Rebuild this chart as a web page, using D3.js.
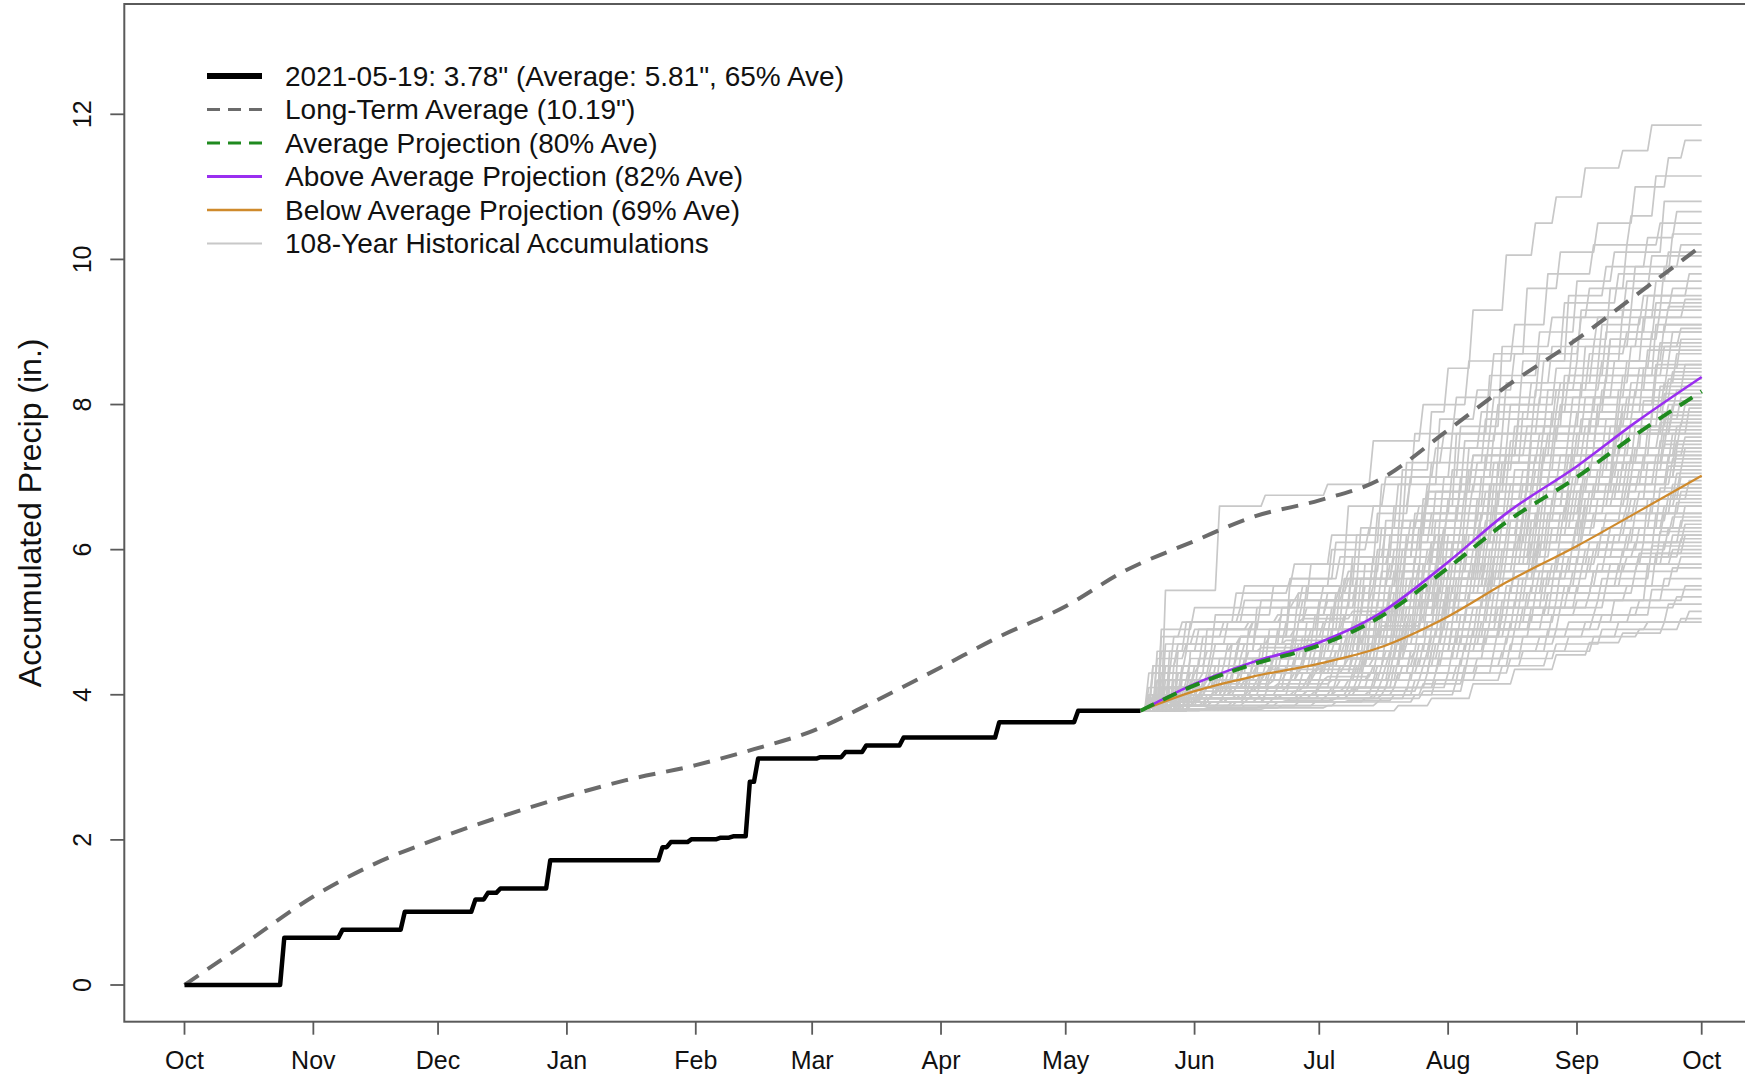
<!DOCTYPE html>
<html><head><meta charset="utf-8">
<script src="https://cdn.jsdelivr.net/npm/d3@7"></script>
<style>
body{margin:0;background:#fff}
svg{display:block}
text{font-family:"Liberation Sans",Arial,Helvetica,sans-serif;fill:#111}
</style>
</head><body>
<svg id="c" width="1745" height="1081"></svg>
<script>
// ---------------- DATA ----------------
const monthTicks = ["2020-10-01","2020-11-01","2020-12-01","2021-01-01","2021-02-01","2021-03-01","2021-04-01","2021-05-01","2021-06-01","2021-07-01","2021-08-01","2021-09-01","2021-10-01"];
const yTicks = [0,2,4,6,8,10,12];

// observed water-year accumulation (step changes)
const obsDates  = ["2020-10-01","2020-10-25","2020-11-08","2020-11-23","2020-12-10","2020-12-13","2020-12-16","2020-12-28","2021-01-24","2021-01-26","2021-01-31","2021-02-07","2021-02-10","2021-02-14","2021-02-16","2021-03-03","2021-03-09","2021-03-14","2021-03-23","2021-04-15","2021-05-04","2021-05-19"];
const obsValues = [0,0.65,0.76,1.01,1.18,1.27,1.33,1.72,1.90,1.97,2.01,2.03,2.05,2.80,3.12,3.14,3.21,3.30,3.41,3.62,3.78,3.78];

// long-term average
const ltaDates = ["2020-10-01","2020-10-15","2020-11-01","2020-11-15","2020-12-01","2020-12-15","2021-01-01","2021-01-15","2021-02-01","2021-02-15","2021-03-01","2021-03-15","2021-04-01","2021-04-15","2021-05-01","2021-05-15","2021-06-01","2021-06-15","2021-07-01","2021-07-15","2021-08-01","2021-08-15","2021-09-01","2021-09-15","2021-10-01"];
const ltaValues = [0,0.55,1.22,1.65,2.02,2.30,2.60,2.82,3.03,3.25,3.50,3.88,4.38,4.80,5.22,5.70,6.12,6.45,6.68,6.95,7.65,8.25,8.90,9.50,10.19];

// projections
const projDates  = ["2021-05-19","2021-06-01","2021-06-15","2021-07-01","2021-07-15","2021-08-01","2021-08-15","2021-09-01","2021-09-15","2021-10-01"];
const projAverage = [3.78,4.13,4.42,4.68,5.05,5.75,6.38,7.00,7.58,8.18];
const projAbove   = [3.78,4.15,4.45,4.72,5.10,5.83,6.50,7.15,7.75,8.38];
const projBelow   = [3.78,4.05,4.25,4.43,4.64,5.08,5.55,6.05,6.50,7.02];

// historical accumulations from 2021-05-19: "dayOffset:cumulativeValue"
const histStartDate = "2021-05-19";
const histStartValue = 3.78;
const histEndDay = 135;
const histLines = [
"3:3.9 9:4.3 17:4.6 28:5.0 40:5.5 52:6.2 63:7.1 70:7.9 74:8.5 80:9.3 88:10.06 95:10.5 100:10.86 107:11.26 116:11.5 123:11.85",
"5:4.2 12:4.5 24:4.8 36:5.6 47:6.1 58:6.9 66:7.6 76:8.1 85:8.7 93:9.6 101:10.1 110:10.5 119:11.0 127:11.4 131:11.64",
"6:5.44 19:6.6 30:6.75 45:6.9 56:7.5 68:8.0 79:8.6 90:9.1 98:9.8 109:10.2 118:10.6 124:11.15",
"2:4.0 10:4.4 21:4.7 34:5.2 44:5.5 53:6.3 64:7.2 73:7.6 84:8.4 96:9.0 105:9.7 114:10.1 126:10.8",
"7:4.3 16:4.9 29:5.3 41:5.8 50:6.6 59:7.0 71:7.4 82:7.9 92:8.6 103:9.5 112:9.9 122:10.3 129:10.66",
"4:4.1 13:4.3 26:4.9 38:5.4 49:5.8 57:6.5 65:7.0 77:7.7 87:8.8 99:9.2 108:9.6 117:10.2 125:10.5",
"9:4.6 18:5.1 32:5.5 46:6.0 55:6.3 62:6.9 72:7.8 81:8.2 90:8.7 102:9.4 115:9.8 128:10.35",
"3:4.0 11:4.2 23:4.6 37:4.9 48:5.5 60:6.2 69:6.8 78:7.5 86:8.0 97:8.6 106:9.3 119:9.9 130:10.2",
"6:4.4 15:4.8 27:5.0 39:5.3 51:5.9 61:6.6 70:7.2 83:7.8 94:8.3 104:8.9 113:9.6 123:10.05",
"5:4.0 14:4.5 25:4.7 42:5.1 54:5.8 63:6.4 73:7.0 85:7.6 95:8.2 105:8.6 116:9.3 126:9.9",
"8:4.2 20:4.4 31:4.9 43:5.3 52:5.6 61:6.0 68:6.7 79:7.4 89:8.0 100:8.5 111:9.1 121:9.5 132:9.8",
"2:3.9 12:4.6 28:5.2 39:5.5 50:5.7 58:6.3 67:6.6 76:7.6 88:8.3 99:8.8 110:9.2 124:9.7",
"10:4.3 22:4.7 35:5.0 47:5.4 56:5.9 66:6.5 75:7.1 84:7.6 96:8.1 107:8.8 118:9.3 128:9.6",
"4:4.2 17:4.4 30:4.8 44:5.0 53:5.6 64:6.2 74:6.6 83:7.3 93:7.7 102:8.4 112:9.0 122:9.5",
"6:3.95 15:4.1 27:4.5 40:5.0 49:5.6 59:6.4 69:6.9 80:7.3 91:7.9 101:8.3 109:8.8 120:9.2 131:9.45",
"3:4.3 11:4.6 24:4.8 36:5.3 48:5.5 57:6.0 65:6.4 77:7.0 87:7.6 98:8.2 108:8.7 117:9.0 127:9.35",
"7:4.0 19:4.5 33:4.9 45:5.1 54:5.5 62:6.2 71:6.8 81:7.2 92:7.9 103:8.4 113:8.9 125:9.3",
"9:4.1 21:4.3 32:4.6 43:5.2 51:5.8 60:6.1 70:6.5 79:7.1 90:7.7 100:8.2 111:8.6 121:9.2",
"5:4.1 13:4.4 26:4.6 38:5.0 50:5.3 61:5.7 72:6.4 82:7.0 94:7.6 104:8.1 114:8.6 126:9.1",
"2:4.1 16:4.3 29:4.7 41:4.9 52:5.5 63:6.0 73:6.3 86:7.2 97:7.7 106:8.3 118:8.8 130:9.05",
"12:4.2 25:4.5 37:4.8 47:5.3 57:5.8 67:6.3 78:6.8 88:7.3 99:7.9 110:8.5 123:9.0",
"4:3.9 14:4.2 30:4.4 44:4.7 55:5.4 64:6.1 74:6.7 85:7.2 96:7.6 107:8.1 117:8.6 128:9.0",
"8:4.4 18:4.7 31:4.8 46:5.2 58:5.7 68:6.5 80:6.9 89:7.5 101:8.0 112:8.4 124:9.1",
"6:4.0 20:4.3 34:4.6 46:4.9 56:5.4 66:5.9 76:6.6 87:7.2 98:7.6 109:8.1 120:8.5 130:8.9",
"3:3.9 10:4.1 24:4.5 39:4.8 52:5.1 62:5.8 71:6.4 83:6.8 94:7.5 105:7.9 116:8.4 126:8.8",
"9:4.3 23:4.5 35:4.7 48:5.0 59:5.6 69:6.0 79:6.5 90:7.1 100:7.7 111:8.2 122:8.75",
"5:3.9 15:4.2 28:4.4 42:4.6 53:5.2 63:5.7 72:6.2 84:6.9 95:7.3 106:7.8 118:8.3 129:8.7",
"11:4.1 22:4.3 36:4.6 49:5.1 60:5.5 70:6.1 81:6.7 92:7.1 103:7.6 115:8.2 127:8.6",
"2:3.95 13:4.2 27:4.4 40:4.7 51:5.0 61:5.4 73:6.1 85:6.6 96:7.2 108:7.8 119:8.2 131:8.55",
"7:4.1 18:4.4 30:4.5 45:4.8 57:5.3 66:5.9 77:6.3 88:6.9 99:7.4 110:7.9 121:8.5",
"4:4.0 16:4.1 29:4.3 43:4.5 54:5.0 64:5.6 75:6.1 86:6.8 97:7.3 107:7.7 117:8.1 128:8.45",
"10:4.0 21:4.2 33:4.6 47:4.8 58:5.2 68:5.8 78:6.5 89:6.9 101:7.3 112:7.8 124:8.4",
"6:4.2 17:4.3 32:4.5 44:4.9 55:5.3 65:5.6 74:6.2 84:6.7 95:7.1 105:7.6 116:8.0 127:8.35",
"3:3.85 14:4.0 26:4.3 41:4.6 53:4.9 62:5.5 72:6.0 83:6.4 93:7.0 104:7.4 115:7.9 126:8.3",
"8:4.0 19:4.2 31:4.4 46:4.6 57:5.1 67:5.7 79:6.2 91:6.6 102:7.1 113:7.7 125:8.25",
"5:4.1 12:4.3 25:4.4 38:4.7 50:4.9 60:5.4 70:6.0 82:6.5 93:6.9 104:7.5 116:7.9 129:8.2",
"9:4.0 22:4.1 35:4.4 48:4.7 59:5.0 69:5.6 80:6.0 91:6.6 102:7.0 114:7.6 126:8.15",
"2:3.9 11:4.1 24:4.2 37:4.5 51:4.8 62:5.3 71:5.8 82:6.3 94:6.9 106:7.3 118:7.8 130:8.1",
"6:3.95 18:4.2 30:4.3 43:4.4 55:4.8 66:5.4 76:5.9 87:6.4 98:7.0 109:7.4 121:8.05",
"4:4.2 15:4.3 28:4.4 40:4.6 52:5.0 63:5.4 73:5.9 84:6.3 96:6.8 107:7.2 119:7.7 131:8.0",
"12:4.1 26:4.3 39:4.5 50:4.9 61:5.3 72:5.7 83:6.2 94:6.7 105:7.1 117:7.6 128:8.0",
"7:4.6 14:4.9 27:5.0 40:5.2 52:5.5 62:5.8 73:6.3 85:6.9 97:7.4 110:8.0 124:8.55",
"3:4.4 9:4.7 21:5.0 34:5.1 45:5.4 56:5.9 66:6.4 77:6.9 88:7.4 100:7.9 112:8.4 125:8.85",
"5:3.9 17:4.0 31:4.2 44:4.4 55:4.9 65:5.3 75:5.8 86:6.3 97:6.8 108:7.2 120:7.6 132:7.95",
"8:4.1 20:4.2 33:4.4 47:4.6 58:5.0 68:5.5 78:5.9 89:6.4 100:6.8 111:7.3 123:7.9",
"3:4.0 13:4.1 26:4.3 39:4.4 50:4.7 61:5.1 71:5.6 82:6.1 93:6.6 104:7.0 115:7.4 127:7.85",
"10:4.2 24:4.3 37:4.5 49:4.7 60:5.2 70:5.6 81:6.1 92:6.5 103:6.9 114:7.4 126:7.8",
"6:3.85 16:4.0 29:4.2 42:4.5 53:4.8 64:5.2 74:5.7 85:6.2 96:6.6 107:7.0 119:7.4 130:7.75",
"2:4.0 12:4.1 25:4.2 38:4.3 51:4.6 62:5.0 72:5.5 84:6.0 95:6.5 106:6.9 118:7.3 129:7.7",
"9:4.0 21:4.1 34:4.3 46:4.5 57:4.9 67:5.3 77:5.8 88:6.2 99:6.7 110:7.1 122:7.65",
"4:3.9 15:4.0 27:4.1 41:4.3 54:4.7 63:5.2 73:5.6 83:5.9 94:6.4 105:6.8 116:7.2 128:7.6",
"7:4.1 18:4.2 32:4.3 45:4.5 56:4.8 66:5.1 76:5.6 87:6.0 98:6.5 109:6.9 121:7.3 131:7.55",
"11:3.95 23:4.0 36:4.2 48:4.4 59:4.8 69:5.3 80:5.8 91:6.2 102:6.6 113:7.0 125:7.5",
"5:4.3 14:4.4 28:4.5 40:4.6 52:4.9 62:5.2 72:5.5 83:5.9 94:6.3 106:6.8 117:7.2 129:7.5",
"3:3.85 13:3.95 26:4.1 39:4.3 51:4.5 61:4.9 71:5.4 82:5.8 93:6.3 104:6.7 115:7.1 126:7.45",
"8:4.0 19:4.1 31:4.3 44:4.4 55:4.7 65:5.1 75:5.5 86:5.9 97:6.4 108:6.8 120:7.1 131:7.4",
"6:4.1 17:4.2 30:4.3 43:4.4 54:4.6 64:5.0 74:5.5 85:5.9 96:6.3 107:6.7 118:7.0 129:7.35",
"2:3.9 10:4.0 22:4.2 35:4.3 47:4.6 58:4.9 68:5.3 79:5.7 90:6.1 101:6.5 112:6.9 124:7.3",
"12:4.1 25:4.2 38:4.4 50:4.5 61:4.9 71:5.4 81:5.8 92:6.2 103:6.6 114:6.9 127:7.3",
"4:4.0 16:4.1 29:4.2 42:4.3 53:4.5 63:4.9 73:5.3 84:5.7 95:6.2 106:6.6 117:6.9 128:7.25",
"9:3.9 20:4.0 33:4.1 46:4.3 57:4.6 67:5.0 77:5.5 88:5.9 99:6.3 110:6.7 122:7.2",
"5:4.0 15:4.1 28:4.2 41:4.3 52:4.5 62:4.8 72:5.2 83:5.6 94:6.0 105:6.4 116:6.8 127:7.15",
"7:4.2 18:4.3 32:4.4 45:4.5 56:4.7 66:5.0 76:5.4 87:5.8 98:6.2 109:6.5 120:6.8 130:7.1",
"3:3.95 14:4.0 27:4.1 40:4.2 52:4.4 63:4.8 73:5.2 84:5.6 95:6.0 106:6.4 118:6.7 129:7.05",
"10:4.0 23:4.1 36:4.2 48:4.4 59:4.6 69:5.0 79:5.4 90:5.8 101:6.2 112:6.5 124:7.0",
"6:3.85 16:3.9 30:4.0 43:4.2 54:4.5 64:4.9 74:5.3 85:5.7 96:6.1 107:6.4 119:6.7 130:7.0",
"4:4.5 11:4.7 24:4.8 37:4.9 49:5.1 60:5.3 70:5.6 81:6.0 92:6.4 103:6.8 114:7.2 126:7.6",
"2:4.3 8:4.8 20:5.0 33:5.1 45:5.3 56:5.5 67:5.8 78:6.2 89:6.6 100:7.0 112:7.4 125:7.75",
"5:4.6 12:5.0 25:5.3 38:5.4 50:5.6 61:5.9 71:6.2 82:6.5 93:6.9 104:7.3 116:7.6 128:7.9",
"8:3.9 21:3.95 34:4.0 47:4.2 58:4.4 68:4.7 78:5.1 89:5.5 100:5.9 111:6.3 123:6.7 132:6.95",
"4:4.0 15:4.05 28:4.1 41:4.2 53:4.4 63:4.7 73:5.0 84:5.4 95:5.8 106:6.2 117:6.5 128:6.9",
"11:4.1 24:4.2 37:4.3 49:4.4 60:4.6 70:4.9 80:5.2 91:5.6 102:6.0 113:6.3 125:6.85",
"6:3.85 17:3.9 30:4.0 43:4.1 55:4.3 65:4.6 75:5.0 86:5.4 97:5.8 108:6.1 119:6.5 130:6.8",
"3:3.9 13:4.0 26:4.05 39:4.1 51:4.3 61:4.6 71:4.9 82:5.3 93:5.7 104:6.1 116:6.4 127:6.75",
"9:4.0 20:4.1 33:4.15 46:4.2 57:4.4 67:4.7 77:5.1 88:5.5 99:5.8 110:6.1 122:6.7",
"5:4.1 16:4.2 29:4.3 42:4.35 54:4.5 64:4.7 74:5.0 85:5.4 96:5.7 107:6.0 118:6.3 129:6.65",
"7:3.85 19:3.9 32:3.95 45:4.0 56:4.2 66:4.5 76:4.9 87:5.3 98:5.7 109:6.0 120:6.3 131:6.6",
"2:3.85 12:3.95 25:4.0 38:4.1 50:4.2 60:4.5 70:4.8 81:5.2 92:5.6 103:5.9 114:6.2 126:6.5",
"10:4.0 22:4.05 35:4.1 48:4.2 59:4.4 69:4.6 79:4.9 90:5.3 101:5.7 112:6.0 124:6.5",
"4:3.9 14:3.95 27:4.0 40:4.05 52:4.2 62:4.5 72:4.8 83:5.2 94:5.5 105:5.9 117:6.2 128:6.45",
"6:4.0 18:4.05 31:4.1 44:4.2 55:4.3 65:4.6 75:4.9 86:5.2 97:5.6 108:5.9 119:6.1 130:6.4",
"8:3.9 20:3.95 33:4.0 46:4.1 57:4.3 67:4.5 77:4.8 88:5.1 99:5.5 110:5.8 121:6.1 131:6.35",
"3:3.85 13:3.9 26:3.95 39:4.0 51:4.1 61:4.4 71:4.7 82:5.0 93:5.4 104:5.7 116:6.0 127:6.3",
"11:3.95 24:4.0 37:4.05 49:4.1 60:4.3 70:4.6 80:4.9 91:5.2 102:5.5 113:5.8 125:6.25",
"5:3.9 16:3.95 29:4.0 42:4.05 53:4.2 63:4.4 73:4.7 84:5.0 95:5.4 106:5.7 117:5.9 128:6.2",
"7:4.1 19:4.15 32:4.2 45:4.25 56:4.4 66:4.6 76:4.8 87:5.1 98:5.4 109:5.7 120:5.9 130:6.15",
"2:3.85 12:3.9 25:3.95 38:4.0 50:4.1 60:4.3 70:4.6 81:4.9 92:5.2 103:5.5 115:5.8 126:6.1",
"9:3.9 21:3.95 34:4.0 47:4.05 58:4.2 68:4.4 78:4.7 89:5.0 100:5.3 111:5.6 123:6.05",
"4:3.85 15:3.9 28:3.95 41:4.0 52:4.1 62:4.3 72:4.6 83:4.9 94:5.2 105:5.5 116:5.8 128:6.0",
"3:4.4 9:4.6 22:4.7 35:4.75 47:4.8 58:4.95 68:5.1 79:5.4 90:5.7 101:6.0 113:6.3 126:6.6",
"6:4.7 13:4.9 26:5.0 39:5.05 51:5.15 62:5.3 72:5.5 83:5.8 94:6.1 105:6.4 117:6.6 129:6.85",
"10:3.85 23:3.9 36:3.95 48:4.0 59:4.1 69:4.3 79:4.6 90:4.9 101:5.2 112:5.5 124:5.95",
"5:3.85 17:3.9 30:3.95 43:4.0 55:4.05 65:4.3 75:4.6 86:4.9 97:5.2 108:5.4 119:5.7 130:5.9",
"8:3.8 20:3.85 33:3.9 46:3.95 57:4.05 67:4.2 77:4.5 88:4.8 99:5.1 110:5.3 122:5.8",
"3:3.9 14:3.95 27:4.0 40:4.05 52:4.1 62:4.3 72:4.5 83:4.8 94:5.1 105:5.3 117:5.5 128:5.75",
"12:3.85 25:3.9 38:3.95 50:4.0 61:4.1 71:4.3 81:4.5 92:4.8 103:5.0 114:5.3 126:5.6",
"6:3.8 18:3.85 31:3.9 44:3.95 56:4.0 66:4.2 76:4.4 87:4.6 98:4.9 109:5.1 120:5.3 131:5.5",
"9:3.85 22:3.9 35:3.92 47:3.95 58:4.0 68:4.15 78:4.4 89:4.7 100:4.9 111:5.1 123:5.45",
"4:3.8 16:3.82 29:3.85 42:3.9 54:3.95 64:4.1 74:4.3 85:4.6 96:4.8 107:5.0 118:5.2 129:5.35",
"11:3.8 25:3.85 38:3.9 50:3.92 61:4.0 71:4.2 81:4.4 92:4.6 103:4.8 115:5.0 127:5.25",
"7:3.8 20:3.82 34:3.85 47:3.9 58:3.95 68:4.05 78:4.3 89:4.5 100:4.7 111:4.9 122:5.0 132:5.15",
"15:3.8 30:3.82 45:3.85 57:3.9 66:4.0 76:4.2 87:4.4 98:4.6 109:4.8 120:4.9 130:5.05",
"62:3.85 70:3.95 80:4.15 90:4.35 100:4.55 108:4.72 116:4.85 126:5.0",
"5:4.8 10:5.0 24:5.2 37:5.3 49:5.5 60:5.8 70:6.1 81:6.5 92:6.9 103:7.3 115:7.7 127:8.0",
"7:4.4 16:4.6 29:4.65 42:4.7 54:4.9 64:5.1 74:5.4 85:5.8 96:6.2 107:6.6 118:7.0 129:7.4",
"4:4.6 11:5.0 23:5.4 36:5.6 48:5.9 59:6.3 69:6.8 80:7.3 91:7.8 102:8.3 113:8.9 124:9.4",
"8:4.2 18:4.3 31:4.35 44:4.4 56:4.5 66:4.6 76:4.8 87:5.1 98:5.4 109:5.7 120:5.95 131:6.2",
"5:4.9 13:5.2 25:5.5 37:5.8 46:6.2 56:6.6 65:7.0 75:7.6 85:8.1 96:8.7 106:9.2 117:9.7 127:10.1"
];

const legendLabels = [
  "2021-05-19: 3.78\" (Average: 5.81\", 65% Ave)",
  "Long-Term Average (10.19\")",
  "Average Projection (80% Ave)",
  "Above Average Projection (82% Ave)",
  "Below Average Projection (69% Ave)",
  "108-Year Historical Accumulations"
];
const yTitle = "Accumulated Precip (in.)";

// ---------------- DRAW ----------------
const svg = d3.select("#c");
const parse = d3.utcParse("%Y-%m-%d");
const DAY = 864e5;

const frame = {left:124.3, top:4, right:1762, bottom:1021.7};
const x = d3.scaleUtc().domain([parse("2020-10-01"), parse("2021-10-01")]).range([184.5, 1701.7]);
const y = d3.scaleLinear().domain([0, 12]).range([985, 114.3]);

const sty = {
  hist:{color:"#c8c8c8", w:1.7},
  lta:{color:"#6b6b6b", w:4, dash:"17,11"},
  obs:{color:"#000", w:4.5},
  avg:{color:"#1f8a1f", w:4, dash:"15,10"},
  above:{color:"#9a2ef0", w:2.6},
  below:{color:"#cf8a2c", w:2.2}
};

const line = d3.line().x(d => x(d[0])).y(d => y(d[1]));
const smooth = d3.line().x(d => x(d[0])).y(d => y(d[1])).curve(d3.curveMonotoneX);

const g = svg.append("g");

// historical lines
const hs = parse(histStartDate).getTime();
const dayDate = d => new Date(hs + d * DAY);
histLines.forEach(s => {
  const pts = [[dayDate(0), histStartValue]];
  let prev = histStartValue;
  s.split(" ").forEach(tok => {
    const [d, v] = tok.split(":").map(Number);
    pts.push([dayDate(d - 1), prev]);
    pts.push([dayDate(d), v]);
    prev = v;
  });
  pts.push([dayDate(histEndDay), prev]);
  g.append("path").attr("d", line(pts)).attr("fill","none")
   .attr("stroke", sty.hist.color).attr("stroke-width", sty.hist.w).attr("stroke-linejoin","round");
});

// long-term average
g.append("path").attr("d", smooth(ltaDates.map((d,i)=>[parse(d), ltaValues[i]])))
 .attr("fill","none").attr("stroke", sty.lta.color).attr("stroke-width", sty.lta.w)
 .attr("stroke-dasharray", sty.lta.dash);

// observed
const obsPts = [];
obsDates.forEach((d,i) => {
  const t = parse(d);
  if (i > 0) obsPts.push([new Date(t.getTime() - DAY), obsValues[i-1]]);
  obsPts.push([t, obsValues[i]]);
});
g.append("path").attr("d", line(obsPts)).attr("fill","none")
 .attr("stroke", sty.obs.color).attr("stroke-width", sty.obs.w).attr("stroke-linejoin","round");

// projections
const proj = (vals) => projDates.map((d,i)=>[parse(d), vals[i]]);
g.append("path").attr("d", smooth(proj(projBelow))).attr("fill","none")
 .attr("stroke", sty.below.color).attr("stroke-width", sty.below.w);
g.append("path").attr("d", smooth(proj(projAbove))).attr("fill","none")
 .attr("stroke", sty.above.color).attr("stroke-width", sty.above.w);
g.append("path").attr("d", smooth(proj(projAverage))).attr("fill","none")
 .attr("stroke", sty.avg.color).attr("stroke-width", sty.avg.w).attr("stroke-dasharray", sty.avg.dash);

// frame
svg.append("rect").attr("x", frame.left).attr("y", frame.top)
 .attr("width", frame.right - frame.left).attr("height", frame.bottom - frame.top)
 .attr("fill","none").attr("stroke","#5a5a5a").attr("stroke-width",2);

// x axis
const xa = svg.append("g");
monthTicks.forEach(m => {
  const t = parse(m);
  xa.append("line").attr("x1", x(t)).attr("x2", x(t)).attr("y1", frame.bottom).attr("y2", frame.bottom + 13)
    .attr("stroke","#5a5a5a").attr("stroke-width",1.8);
  xa.append("text").attr("x", x(t)).attr("y", 1060).attr("text-anchor","middle")
    .attr("dominant-baseline","central").attr("font-size",25).text(d3.utcFormat("%b")(t));
});

// y axis
const ya = svg.append("g");
yTicks.forEach(v => {
  ya.append("line").attr("x1", frame.left - 14).attr("x2", frame.left).attr("y1", y(v)).attr("y2", y(v))
    .attr("stroke","#5a5a5a").attr("stroke-width",1.8);
  ya.append("text").attr("transform", `translate(82,${y(v)}) rotate(-90)`).attr("text-anchor","middle")
    .attr("dominant-baseline","central").attr("font-size",25).text(v);
});
svg.append("text").attr("transform", `translate(30,${(frame.top+frame.bottom)/2 + 0}) rotate(-90)`)
  .attr("text-anchor","middle").attr("dominant-baseline","central").attr("font-size",32).text(yTitle);

// legend
const legStyles = [sty.obs, sty.lta, sty.avg, sty.above, sty.below, sty.hist];
const legDash = [null, "13,8", "13,8", null, null, null];
const lg = svg.append("g");
legendLabels.forEach((lab, i) => {
  const cy = 76 + i * 33.5;
  const s = legStyles[i];
  lg.append("line").attr("x1", 207).attr("x2", 262).attr("y1", cy).attr("y2", cy)
    .attr("stroke", s.color).attr("stroke-width", i===0 ? 6 : (i===1||i===2 ? 3 : s.w+0.4))
    .attr("stroke-dasharray", legDash[i]);
  lg.append("text").attr("x", 285).attr("y", cy).attr("dominant-baseline","central")
    .attr("font-size", 28).text(lab);
});
</script>
</body></html>
